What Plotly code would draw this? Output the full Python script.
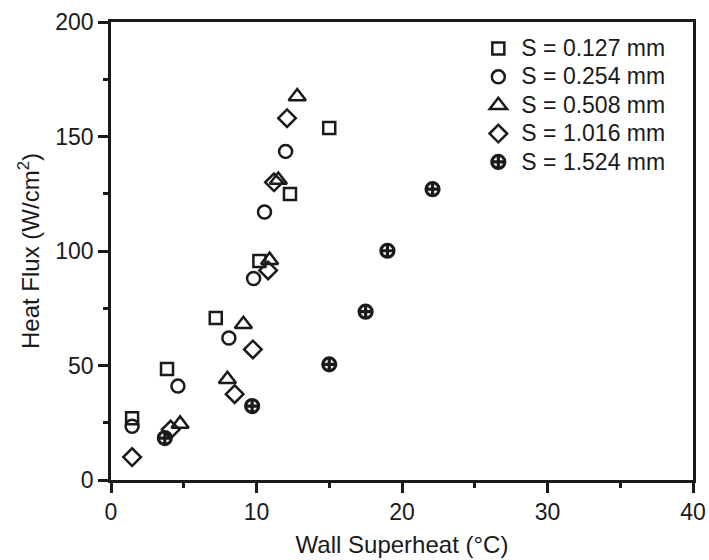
import plotly.graph_objects as go

labels = ["S = 0.127 mm", "S = 0.254 mm", "S = 0.508 mm", "S = 1.016 mm", "S = 1.524 mm"]

x_0127 = [1.45, 3.85, 7.2, 10.2, 12.3, 15.0]
y_0127 = [27, 48.5, 70.7, 95.6, 124.9, 153.7]

x_0254 = [1.45, 4.6, 8.1, 9.8, 10.55, 12.0]
y_0254 = [23.5, 41, 62, 88, 117, 143.5]

x_0508 = [4.75, 8.0, 9.1, 10.9, 11.5, 12.8]
y_0508 = [24.5, 44, 68, 96, 131, 167.5]

x_1016 = [1.45, 4.1, 8.5, 9.75, 10.8, 11.2, 12.1]
y_1016 = [10, 22, 37.5, 57, 91.5, 130, 158]

x_1524 = [3.7, 9.7, 15.0, 17.5, 19.0, 22.1]
y_1524 = [18.3, 32.3, 50.5, 73.5, 100.1, 127]

xs = [x_0127, x_0254, x_0508, x_1016, x_1524]
ys = [y_0127, y_0254, y_0508, y_1016, y_1524]
symbols = ["square-open", "circle-open", "triangle-up-open", "diamond-open", "circle-cross-open"]
sizes = [12, 13, 15, 13.5, 13]
widths = [2.5, 2.5, 2.5, 2.5, 3.2]

FONT = "Liberation Sans, Arial, sans-serif"
INK = "#1a1a1a"

fig = go.Figure()
for x, y, lab, sym, sz, w in zip(xs, ys, labels, symbols, sizes, widths):
    fig.add_trace(go.Scatter(
        x=x, y=y, mode="markers",
        name='<span style="font-size:23px">' + lab + '</span>',
        marker=dict(symbol=sym, size=sz, color=INK, line=dict(width=w, color=INK)),
    ))

axis_common = dict(
    showline=True, linecolor=INK, linewidth=2.5, mirror=True,
    ticks="outside", ticklen=10, tickwidth=2.5, tickcolor=INK,
    showgrid=False, zeroline=False,
    tickfont=dict(family=FONT, size=23, color=INK),
    minor=dict(ticks="outside", ticklen=5, tickwidth=2.5, tickcolor=INK),
)

fig.update_xaxes(range=[0, 40], tickvals=[0, 10, 20, 30, 40],
                 minor_tickvals=[5, 15, 25, 35],
                 title=dict(text="Wall Superheat (°C)", font=dict(family=FONT, size=24, color=INK), standoff=12),
                 automargin=False,
                 **axis_common)
fig.update_yaxes(range=[0, 200], tickvals=[0, 50, 100, 150, 200],
                 minor_tickvals=[25, 75, 125, 175],
                 title=dict(text="Heat Flux (W/cm<sup>2</sup>)", font=dict(family=FONT, size=24, color=INK), standoff=9),
                 automargin=False,
                 **axis_common)

fig.update_layout(
    width=709, height=560,
    margin=dict(l=111, r=16, t=22, b=80, autoexpand=False),
    plot_bgcolor="white", paper_bgcolor="white",
    font=dict(family=FONT, size=23, color=INK),
    legend=dict(x=0.626, y=0.984, xanchor="left", yanchor="top",
                bgcolor="rgba(0,0,0,0)", font=dict(family=FONT, size=19.5, color=INK),
                itemsizing="trace", itemwidth=36, tracegroupgap=0),
)

fig.write_html("out.html", config={"displayModeBar": False},
               post_script="document.body.style.margin='0px';")
